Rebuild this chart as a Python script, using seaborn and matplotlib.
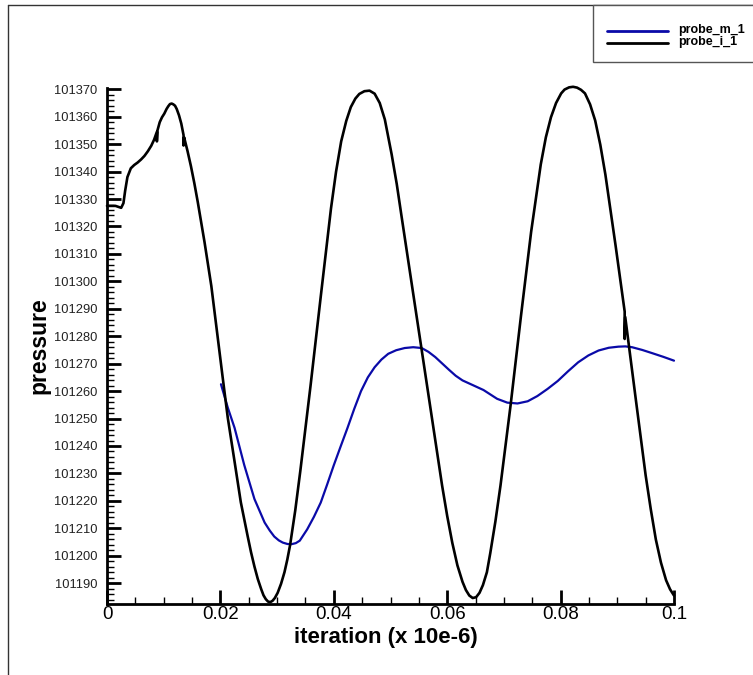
import numpy as np
import pandas as pd
import matplotlib
matplotlib.use("Agg")
import matplotlib.pyplot as plt
from matplotlib.lines import Line2D
from matplotlib.patches import Rectangle
from matplotlib.ticker import MultipleLocator
import seaborn as sns

# ---- probe_i_1 (black) ----
iter_i = [0.0000, 0.0015, 0.0025, 0.0029, 0.0032, 0.0036, 0.0042, 0.0048, 0.0054, 0.0060,
          0.0066, 0.0072, 0.0078, 0.0083, 0.0088, 0.0088, 0.0089, 0.0093, 0.0097, 0.0101,
          0.0105, 0.0108, 0.0111, 0.0114, 0.0117, 0.0120, 0.0123, 0.0127, 0.0131, 0.0135,
          0.0135, 0.0136, 0.0142, 0.0148, 0.0154, 0.0160, 0.0172, 0.0184, 0.0195, 0.0204,
          0.0213, 0.0225, 0.0236, 0.0248, 0.0254, 0.0260, 0.0266, 0.0272, 0.0276, 0.0280,
          0.0284, 0.0288, 0.0292, 0.0296, 0.0301, 0.0307, 0.0313, 0.0318, 0.0323, 0.0332,
          0.0341, 0.0359, 0.0377, 0.0395, 0.0404, 0.0413, 0.0422, 0.0430, 0.0438, 0.0445,
          0.0454, 0.0463, 0.0472, 0.0481, 0.0490, 0.0502, 0.0511, 0.0520, 0.0538, 0.0555,
          0.0573, 0.0591, 0.0600, 0.0609, 0.0618, 0.0627, 0.0633, 0.0639, 0.0645, 0.0651,
          0.0657, 0.0663, 0.0670, 0.0676, 0.0685, 0.0694, 0.0712, 0.0730, 0.0748, 0.0765,
          0.0774, 0.0783, 0.0792, 0.0801, 0.0807, 0.0815, 0.0822, 0.0829, 0.0836, 0.0843,
          0.0852, 0.0861, 0.0870, 0.0879, 0.0897, 0.0913, 0.0913, 0.0914, 0.0933, 0.0950,
          0.0959, 0.0968, 0.0977, 0.0986, 0.0993, 0.1000]
press_i = [101327.5, 101327.5, 101326.8, 101328.5, 101333.0, 101338.0, 101341.2, 101342.4, 101343.3, 101344.4,
           101345.7, 101347.4, 101349.4, 101351.6, 101354.5, 101351.0, 101355.0, 101358.0, 101359.8, 101361.1,
           101362.8, 101363.8, 101364.6, 101364.8, 101364.5, 101364.0, 101362.8, 101360.5, 101357.5, 101353.3,
           101349.5, 101352.5, 101347.5, 101342.0, 101335.8, 101329.0, 101314.3, 101298.3, 101280.0, 101265.0,
           101250.3, 101234.3, 101219.5, 101207.2, 101201.3, 101196.1, 101191.5, 101187.8, 101185.6, 101184.2,
           101183.3, 101183.1, 101183.6, 101184.6, 101186.5, 101189.8, 101194.0, 101198.6, 101204.0, 101216.5,
           101231.0, 101262.0, 101294.5, 101326.5, 101340.0, 101351.0, 101358.5, 101363.5, 101366.6, 101368.3,
           101369.3, 101369.5, 101368.4, 101365.0, 101359.0, 101346.3, 101335.5, 101323.0, 101298.3, 101275.0,
           101250.3, 101225.6, 101214.5, 101204.7, 101196.5, 101190.5, 101187.5, 101185.5, 101184.6, 101184.9,
           101186.5, 101189.3, 101194.0, 101201.0, 101212.5, 101225.6, 101255.2, 101287.2, 101318.0, 101342.6,
           101352.5, 101359.8, 101365.0, 101368.5, 101369.9, 101370.7, 101370.9, 101370.6, 101369.8, 101368.5,
           101364.5, 101358.6, 101349.8, 101338.9, 101313.0, 101289.0, 101279.0, 101287.0, 101256.4, 101229.3,
           101217.0, 101205.9, 101197.5, 101191.1, 101187.8, 101185.5]

# ---- probe_m_1 (blue) ----
iter_m = [0.0201, 0.0213, 0.0225, 0.0242, 0.0260, 0.0278, 0.0287, 0.0295, 0.0303, 0.0310,
          0.0318, 0.0325, 0.0333, 0.0340, 0.0353, 0.0365, 0.0377, 0.0388, 0.0400, 0.0412,
          0.0424, 0.0436, 0.0448, 0.0460, 0.0472, 0.0484, 0.0496, 0.0510, 0.0525, 0.0540,
          0.0555, 0.0567, 0.0579, 0.0591, 0.0603, 0.0615, 0.0627, 0.0645, 0.0664, 0.0676,
          0.0688, 0.0706, 0.0724, 0.0742, 0.0759, 0.0777, 0.0795, 0.0813, 0.0831, 0.0849,
          0.0867, 0.0885, 0.0902, 0.0914, 0.0926, 0.0944, 0.0962, 0.0981, 0.1000]
press_m = [101262.5, 101254.0, 101246.6, 101233.1, 101220.7, 101212.1, 101209.2, 101207.0, 101205.6, 101204.8,
           101204.3, 101204.2, 101204.6, 101205.5, 101209.6, 101214.2, 101219.4, 101225.8, 101233.0, 101239.8,
           101246.5, 101253.5, 101260.0, 101265.0, 101268.7, 101271.5, 101273.6, 101274.9, 101275.7, 101276.0,
           101275.7, 101274.3, 101272.4, 101270.1, 101267.8, 101265.6, 101263.9, 101262.2, 101260.4, 101258.8,
           101257.2, 101255.8, 101255.5, 101256.3, 101258.2, 101260.8, 101263.7, 101267.2, 101270.5, 101273.0,
           101274.8, 101275.8, 101276.2, 101276.3, 101276.0, 101275.0, 101273.8, 101272.5, 101271.1]

series_names = ["probe_m_1", "probe_i_1"]
series_colors = ["#0a0aa8", "#000000"]
x_ticks = [0, 0.02, 0.04, 0.06, 0.08, 0.1]
x_tick_labels = ["0", "0.02", "0.04", "0.06", "0.08", "0.1"]
y_ticks = list(range(101190, 101371, 10))

sns.set_theme(style="white")
plt.rcParams["font.family"] = ["Liberation Sans", "DejaVu Sans"]

W, H = 753, 675
fig = plt.figure(figsize=(W / 100, H / 100), dpi=100)

ax_left, ax_right, ax_bottom, ax_top = 107, 674, 603.5, 87.9
ax = fig.add_axes([ax_left / W, 1 - ax_bottom / H,
                   (ax_right - ax_left) / W, (ax_bottom - ax_top) / H])

df_m = pd.DataFrame({"iteration": iter_m, "pressure": press_m})
df_i = pd.DataFrame({"iteration": iter_i, "pressure": press_i})

sns.lineplot(data=df_m, x="iteration", y="pressure", ax=ax, color=series_colors[0],
             linewidth=1.6, sort=False, estimator=None, clip_on=False, zorder=3)
sns.lineplot(data=df_i, x="iteration", y="pressure", ax=ax, color=series_colors[1],
             linewidth=1.9, sort=False, estimator=None, clip_on=False, zorder=4)

ax.set_xlim(0, 0.1)
ax.set_ylim(101182.6, 101370.5)

# Axis styling: only left/bottom spines, inward ticks
for side in ("top", "right"):
    ax.spines[side].set_visible(False)
for side in ("left", "bottom"):
    ax.spines[side].set_visible(True)
    ax.spines[side].set_color("black")
    ax.spines[side].set_linewidth(2.0)

ax.set_xticks(x_ticks)
ax.set_xticklabels(x_tick_labels)
ax.xaxis.set_minor_locator(MultipleLocator(0.005))
ax.set_yticks(y_ticks)
ax.set_yticklabels([str(v) for v in y_ticks])
ax.yaxis.set_minor_locator(MultipleLocator(2))

ax.tick_params(axis="both", which="major", direction="in", length=10, width=2.0,
               color="black", bottom=True, left=True, top=False, right=False)
ax.tick_params(axis="both", which="minor", direction="in", length=5, width=1.0,
               color="black", bottom=True, left=True, top=False, right=False)
ax.tick_params(axis="x", which="major", labelsize=13.5, pad=2, labelcolor="black")
ax.tick_params(axis="y", which="major", labelsize=9.3, pad=7, labelcolor="#222222")

# Axis titles centred at fixed pixel positions
plot_w = ax_right - ax_left
plot_h = ax_bottom - ax_top
ax.set_xlabel("iteration (x 10e-6)", fontsize=16, fontweight="bold", color="black")
ax.set_ylabel("pressure", fontsize=16.5, fontweight="bold", color="black")
ax.xaxis.set_label_coords((385.5 - ax_left) / plot_w, -(637 - ax_bottom) / plot_h)
ax.yaxis.set_label_coords(-(ax_left - 39) / plot_w, 0.5)
ax.xaxis.label.set_va("center")
ax.yaxis.label.set_va("center")
ax.grid(False)
ax.set_facecolor("white")

# Outer frame (left and top edges)
fig.add_artist(Line2D([8 / W, 8 / W], [0, 1 - 5 / H], transform=fig.transFigure,
                      color="#333333", linewidth=1.0))
fig.add_artist(Line2D([8 / W, 1], [1 - 5 / H, 1 - 5 / H], transform=fig.transFigure,
                      color="#333333", linewidth=1.0))

# Legend box in the top-right corner
fig.add_artist(Rectangle((593 / W, 1 - 62 / H), (W - 593 + 5) / W, (62 - 5) / H,
                         transform=fig.transFigure, facecolor="white",
                         edgecolor="#555555", linewidth=1.0, zorder=5))
legend_rows = [30.5, 42.5]
for name, col, yy in zip(series_names, series_colors, legend_rows):
    fig.add_artist(Line2D([607 / W, 668 / W], [1 - yy / H, 1 - yy / H],
                          transform=fig.transFigure, color=col, linewidth=2.0, zorder=6))
    fig.text(678 / W, 1 - yy / H, name, fontsize=9, fontweight="bold",
             va="center", ha="left", color="black", zorder=6)

fig.savefig("out.png", dpi=100, facecolor="white")
